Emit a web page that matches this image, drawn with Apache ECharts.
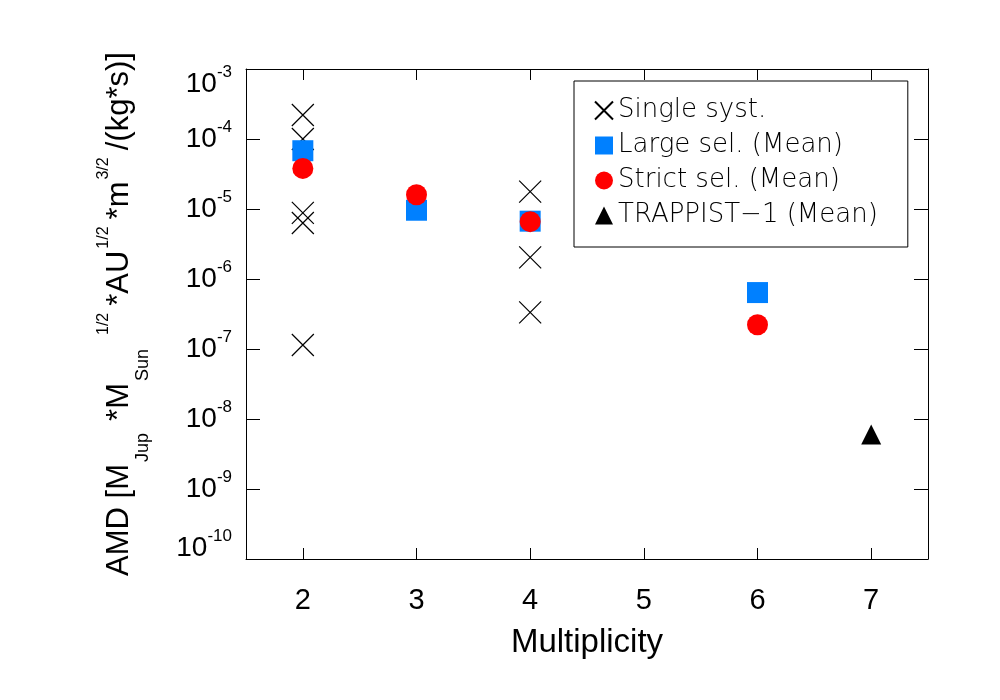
<!DOCTYPE html>
<html>
	<head>
		<meta charset="UTF-8">
		<title>AMD vs multiplicity</title>
		<script type="text/javascript" src="https://cdn.jsdelivr.net/npm/echarts@6/dist/echarts.min.js"></script>
		<style>
			html, body { margin: 0; padding: 0; background: #fff; }
		</style>
	</head>
	<body>
		<div id="main" style="width: 1000px;height:700px;"></div>
		<script type="text/javascript">
			// data
			var xTicks = [2, 3, 4, 5, 6, 7];

			var singleX = [2, 2, 2, 2, 2, 4, 4, 4];
			var singleY = [2.2e-4, 1.0e-4, 8.8e-6, 6.3e-6, 1.14e-7, 1.77e-5, 2.04e-6, 3.33e-7];

			var largeX = [2, 3, 4, 6];
			var largeY = [6.8e-5, 9.6e-6, 6.7e-6, 6.4e-7];

			var strictX = [2, 3, 4, 6];
			var strictY = [3.8e-5, 1.6e-5, 6.6e-6, 2.22e-7];

			var trapX = [7];
			var trapY = [6.0e-9];

			function pairs(xs, ys) {
				return xs.map(function (x, i) { return [x, ys[i]]; });
			}

			var font = 'Liberation Sans, Arial, sans-serif';
			var myChart = echarts.init(document.getElementById('main'));

			myChart.setOption({
				backgroundColor: '#fff',
				animation: false,
				grid: {
					left: 246, right: 72, top: 69, bottom: 141,
					containLabel: false,
					outerBoundsMode: 'none'
				},
				legend: {
					orient: 'vertical',
					left: 574,
					top: 81,
					padding: [16, 30, 18, 20],
					itemGap: 8,
					itemWidth: 18,
					itemHeight: 18,
					borderColor: '#000',
					borderWidth: 1,
					backgroundColor: '#fff',
					textStyle: {
						fontFamily: 'DejaVu Sans',
						fontWeight: 200,
						fontSize: 26,
						lineHeight: 27,
						color: '#000'
					},
					data: ['Single syst.', 'Large sel. (Mean)', 'Strict sel. (Mean)', 'TRAPPIST\u22121 (Mean)']
				},
				xAxis: [{
					type: 'value',
					min: 1.5,
					max: 7.5,
					name: 'Multiplicity',
					nameLocation: 'middle',
					nameGap: 67,
					nameTextStyle: { fontFamily: font, fontSize: 33, color: '#000' },
					axisLine: { onZero: false, lineStyle: { color: '#000', width: 1 } },
					axisTick: { inside: true, length: 11, customValues: xTicks, lineStyle: { color: '#000' } },
					axisLabel: { customValues: xTicks, margin: 27, fontFamily: font, fontSize: 29, color: '#000' },
					splitLine: { show: false }
				}, {
					type: 'value',
					position: 'top',
					min: 1.5,
					max: 7.5,
					axisLine: { onZero: false, lineStyle: { color: '#000', width: 1 } },
					axisTick: { inside: true, length: 11, customValues: xTicks, lineStyle: { color: '#000' } },
					axisLabel: { show: false },
					splitLine: { show: false }
				}],
				yAxis: [{
					type: 'log',
					logBase: 10,
					min: 1e-10,
					max: 1e-3,
					splitNumber: 7,
					name: '{m|AMD [M}{sb|Jup}{m|*M}{sb|Sun}{sp|1/2}{m|*AU}{sp|1/2}{m|*m}{sp|3/2}{m|/(kg*s)]}',
					nameLocation: 'middle',
					nameRotate: 90,
					nameGap: 94,
					nameTextStyle: {
						rich: {
							m: { fontFamily: font, fontSize: 31, lineHeight: 66, color: '#000' },
							sb: { fontFamily: font, fontSize: 18, lineHeight: 18, verticalAlign: 'bottom', padding: [0, 12, 0, 2], color: '#000' },
							sp: { fontFamily: font, fontSize: 16, lineHeight: 16, verticalAlign: 'top', padding: [10, 7, 0, 2], color: '#000' }
						}
					},
					axisLine: { onZero: false, lineStyle: { color: '#000', width: 1 } },
					axisTick: { inside: true, length: 14, lineStyle: { color: '#000' } },
					axisLabel: {
						margin: 14,
						formatter: function (v) {
							var e = Math.round(Math.log10(v));
							if (e === -3) return '{s| }\n{b|10}{e|' + e + '}';
							if (e === -10) return '{b|10}{e|' + e + '}\n{t| }';
							return '{b|10}{e|' + e + '}';
						},
						rich: {
							b: { fontFamily: font, fontSize: 28, lineHeight: 40, color: '#000' },
							e: { fontFamily: font, fontSize: 17, lineHeight: 17, verticalAlign: 'top', color: '#000' },
							s: { fontSize: 10, lineHeight: 30 },
							t: { fontSize: 10, lineHeight: 22 }
						}
					},
					splitLine: { show: false }
				}, {
					type: 'log',
					logBase: 10,
					position: 'right',
					min: 1e-10,
					max: 1e-3,
					splitNumber: 7,
					axisLine: { onZero: false, lineStyle: { color: '#000', width: 1 } },
					axisTick: { inside: true, length: 14, lineStyle: { color: '#000' } },
					axisLabel: { show: false },
					splitLine: { show: false }
				}],
				series: [{
					name: 'Single syst.',
					type: 'scatter',
					symbol: 'path://M0,0L10,10M10,0L0,10',
					symbolSize: 22,
					itemStyle: { color: 'transparent', borderColor: '#000', borderWidth: 1.2, opacity: 1 },
					data: pairs(singleX, singleY)
				}, {
					name: 'Large sel. (Mean)',
					type: 'scatter',
					symbol: 'rect',
					symbolSize: 21,
					itemStyle: { color: '#0080ff', opacity: 1 },
					data: pairs(largeX, largeY)
				}, {
					name: 'Strict sel. (Mean)',
					type: 'scatter',
					symbol: 'circle',
					symbolSize: 21,
					itemStyle: { color: '#ff0000', opacity: 1 },
					data: pairs(strictX, strictY)
				}, {
					name: 'TRAPPIST\u22121 (Mean)',
					type: 'scatter',
					symbol: 'triangle',
					symbolSize: 20,
					itemStyle: { color: '#000', opacity: 1 },
					data: pairs(trapX, trapY)
				}]
			});
		</script>
	</body>
</html>
